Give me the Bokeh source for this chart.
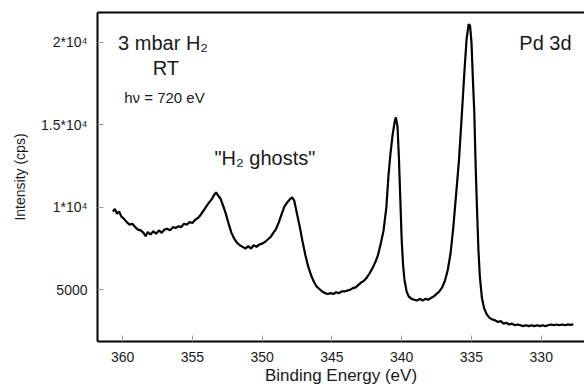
from bokeh.plotting import figure
from bokeh.models import Range1d, LinearAxis, FixedTicker, Label
from bokeh.embed import file_html
from bokeh.resources import INLINE

# Binding energy (eV) and intensity (cps)
energy = [360.7, 360.55, 360.4, 360.25, 360.1, 359.9, 359.7, 359.5, 359.3, 359.1,
          358.9, 358.7, 358.5, 358.35, 358.2, 358.0, 357.8, 357.6, 357.4, 357.2,
          357.0, 356.8, 356.6, 356.4, 356.2, 356.0, 355.8, 355.6, 355.4, 355.2,
          355.0, 354.8, 354.6, 354.4, 354.2, 354.0, 353.8, 353.6, 353.45, 353.3,
          353.15, 353.0, 352.8, 352.6, 352.4, 352.2, 352.0, 351.8, 351.6, 351.4,
          351.2, 351.0, 350.8, 350.6, 350.4, 350.2, 350.0, 349.8, 349.6, 349.4,
          349.2, 349.0, 348.8, 348.6, 348.4, 348.2, 348.0, 347.85, 347.7, 347.5,
          347.3, 347.1, 346.9, 346.7, 346.5, 346.3, 346.1, 345.9, 345.7, 345.5,
          345.3, 345.1, 344.9, 344.7, 344.5, 344.3, 344.1, 343.9, 343.7, 343.5,
          343.3, 343.1, 342.9, 342.7, 342.5, 342.3, 342.1, 341.9, 341.7, 341.5,
          341.3, 341.1, 340.95, 340.8, 340.65, 340.5, 340.42, 340.3, 340.2, 340.1,
          340.0, 339.9, 339.8, 339.65, 339.5, 339.3, 339.1, 338.9, 338.7, 338.5,
          338.3, 338.1, 337.9, 337.7, 337.5, 337.3, 337.1, 336.9, 336.7, 336.5,
          336.3, 336.1, 335.9, 335.7, 335.5, 335.35, 335.2, 335.1, 335.0, 334.9,
          334.8, 334.7, 334.6, 334.5, 334.4, 334.25, 334.1, 333.9, 333.7, 333.5,
          333.3, 333.1, 332.9, 332.7, 332.5, 332.3, 332.1, 331.9, 331.7, 331.5,
          331.3, 331.1, 330.9, 330.7, 330.5, 330.3, 330.1, 329.9, 329.7, 329.5,
          329.3, 329.1, 328.9, 328.7, 328.5, 328.3, 328.1, 327.9, 327.7]
intensity = [9750, 9900, 9600, 9750, 9450, 9300, 9100, 8950, 9000, 8800,
             8650, 8600, 8450, 8250, 8500, 8350, 8550, 8400, 8600, 8450,
             8650, 8700, 8600, 8800, 8750, 8850, 8800, 9000, 8950, 9100,
             9050, 9250, 9350, 9550, 9800, 10050, 10300, 10500, 10750, 10900,
             10700, 10550, 10100, 9600, 9000, 8450, 8100, 7850, 7700, 7600,
             7500, 7650, 7500, 7700, 7600, 7750, 7800, 7900, 8050, 8200,
             8450, 8700, 9100, 9600, 10050, 10300, 10500, 10600, 10400, 9600,
             8800, 7900, 7100, 6400, 5900, 5500, 5200, 5050, 4900, 4800,
             4750, 4800, 4750, 4850, 4800, 4900, 4900, 4950, 5000, 5100,
             5150, 5300, 5450, 5550, 5750, 6000, 6300, 6650, 7100, 7800,
             8600, 10000, 11900, 13300, 14400, 15200, 15450, 14900, 13000, 10500,
             8000, 6500, 5600, 4900, 4600, 4450, 4400, 4350, 4450, 4350,
             4450, 4400, 4500, 4600, 4750, 4900, 5150, 5550, 6200, 7200,
             8800, 10800, 12800, 15500, 18300, 20200, 21100, 21000, 20000, 17800,
             15800, 12500, 9800, 7400, 5800, 4500, 3900, 3500, 3300, 3200,
             3150, 3050, 3100, 2950, 3000, 2900, 2950, 2850, 2900, 2850,
             2800, 2850, 2800, 2850, 2800, 2850, 2800, 2850, 2800, 2850,
             2900, 2850, 2900, 2850, 2900, 2850, 2900, 2880, 2900]

x_ticks = [360, 355, 350, 345, 340, 335, 330]
y_ticks = [5000, 10000, 15000, 20000]
y_tick_labels = {5000: "5000", 10000: "1*10\u2074", 15000: "1.5*10\u2074", 20000: "2*10\u2074"}

FONT = "Liberation Sans"
TXT = "#1a1a1a"

p = figure(width=584, height=387, output_backend="svg", toolbar_location=None,
           x_range=Range1d(361.8, 326.9), y_range=Range1d(1867, 21807),
           min_border_left=97, min_border_right=0, min_border_top=12,
           min_border_bottom=45)
p.outline_line_color = None
p.xgrid.visible = False
p.ygrid.visible = False
p.background_fill_color = "white"
p.border_fill_color = "white"

p.line(energy, intensity, line_color="black", line_width=2.2)

for ax in (p.xaxis[0], p.yaxis[0]):
    ax.axis_line_color = "black"
    ax.axis_line_width = 2
    ax.major_tick_in = 6
    ax.major_tick_out = 0
    ax.major_tick_line_color = "#9a9a9a"
    ax.major_tick_line_width = 1
    ax.minor_tick_line_color = None
    ax.major_label_text_font = FONT
    ax.major_label_text_font_size = "14px"
    ax.major_label_text_color = TXT
    ax.major_label_standoff = 10
    ax.axis_label_text_font = FONT
    ax.axis_label_text_font_style = "normal"
    ax.axis_label_text_color = TXT

p.xaxis.ticker = FixedTicker(ticks=x_ticks)
p.yaxis.ticker = FixedTicker(ticks=y_ticks)
p.yaxis.major_label_overrides = y_tick_labels
p.xaxis.axis_label = "Binding Energy (eV)"
p.yaxis.axis_label = "Intensity (cps)"
p.xaxis.axis_label_text_font_size = "17px"
p.yaxis.axis_label_text_font_size = "14px"
p.xaxis.axis_label_standoff = 1
p.yaxis.axis_label_standoff = 10

top = LinearAxis(ticker=FixedTicker(ticks=[]), axis_line_color="black", axis_line_width=2,
                 major_tick_in=0, major_tick_out=0, minor_tick_in=0, minor_tick_out=0,
                 major_label_text_font_size="0px", major_label_standoff=0)
p.add_layout(top, "above")

def add_label(x, y, text, size, align="center"):
    p.add_layout(Label(x=x, y=y, text=text, text_font=FONT, text_font_size=size,
                       text_color=TXT, text_align=align, text_baseline="alphabetic"))

add_label(357.1, 19940, "3 mbar H\u2082", "20px")
add_label(356.9, 18430, "RT", "20px")
add_label(357.0, 16630, "h\u03bd = 720 eV", "15px")
add_label(349.8, 13010, "\"H\u2082 ghosts\"", "20px")
add_label(329.7, 19940, "Pd 3d", "20px")

open("out.html", "w").write(file_html(p, INLINE))
